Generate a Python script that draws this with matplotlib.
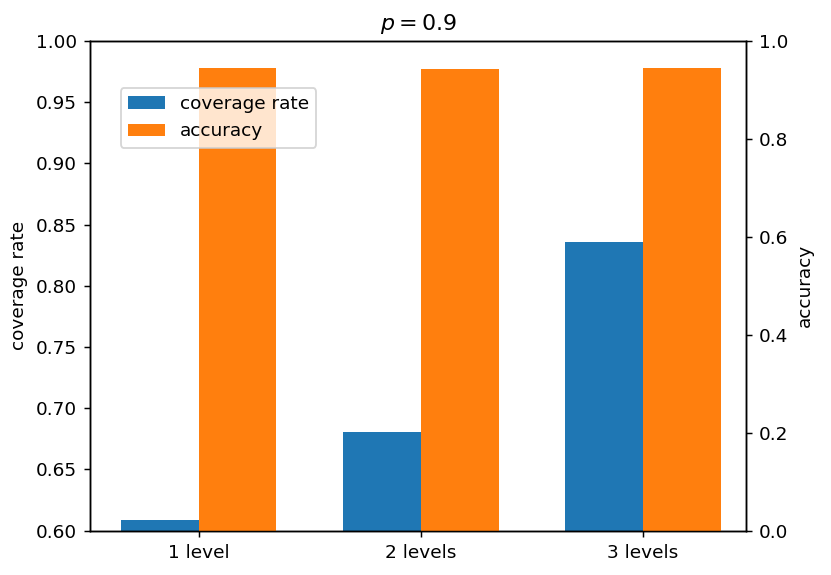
import matplotlib
matplotlib.use("Agg")
import matplotlib.pyplot as plt
import numpy as np

levels = ["1 level", "2 levels", "3 levels"]
coverage = [0.609, 0.681, 0.836]
accuracy = [0.945, 0.943, 0.945]

x = np.arange(len(levels))
width = 0.35

fig, ax = plt.subplots(figsize=(8.31 / 1.33, 5.75 / 1.33), dpi=133)
fig.subplots_adjust(left=0.108, right=0.898, top=0.929, bottom=0.077)

b1 = ax.bar(x - width / 2, coverage, width, color="#1f77b4", label="coverage rate")
ax.set_ylim(0.6, 1.0)
ax.set_ylabel("coverage rate")
ax.set_xticks(x)
ax.set_xticklabels(levels)
ax.set_xlim(-0.49, 2.465)

ax2 = ax.twinx()
b2 = ax2.bar(x + width / 2, accuracy, width, color="#ff7f0e", label="accuracy")
ax2.set_ylim(0, 1.0)
ax2.set_ylabel("accuracy")

ax2.legend([b1, b2], ["coverage rate", "accuracy"], loc="upper left",
           bbox_to_anchor=(0.047, 0.904), borderaxespad=0)

ax.set_title("$p=0.9$")
fig.savefig("out.png")
